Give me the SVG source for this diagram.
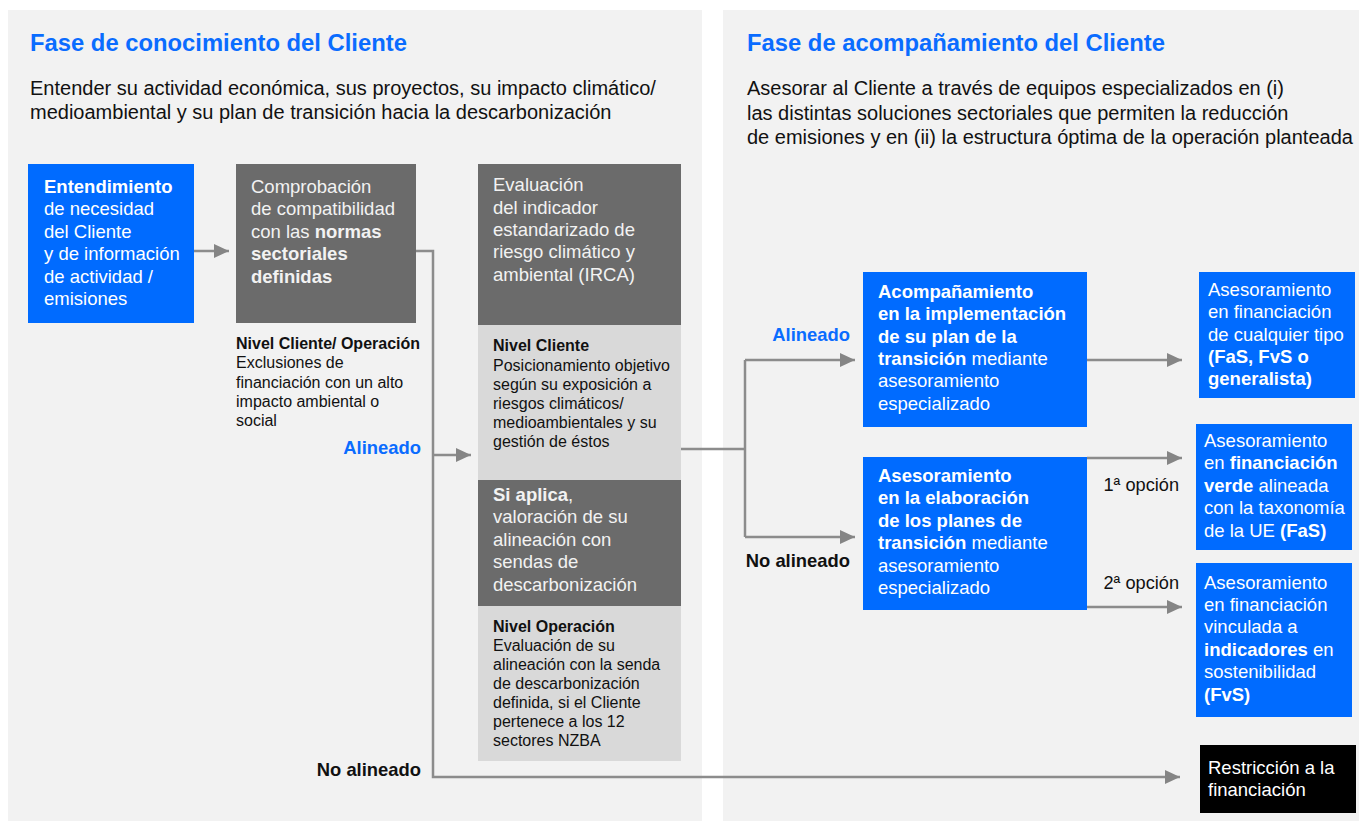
<svg xmlns="http://www.w3.org/2000/svg" width="1359" height="821" viewBox="0 0 1359 821">
<defs>
<marker id="ah" markerUnits="userSpaceOnUse" markerWidth="16" markerHeight="16" refX="15" refY="8" orient="auto">
<path d="M0,1 L15,8 L0,15 z" fill="#858585"/>
</marker>
<style>
text{font-family:"Liberation Sans",Arial,sans-serif;}
.title{font-size:23.8px;font-weight:bold;fill:#0A6CFF;}
.sub{font-size:20px;fill:#111;}
.bt{font-size:18.5px;fill:#FFFFFF;}
.gt{font-size:18.5px;fill:#F2F2F2;}
.st{font-size:16px;fill:#111;}
.b{font-weight:bold;}
.lblue{font-size:18.4px;font-weight:bold;fill:#0A6CFF;}
.lblack{font-size:18.4px;font-weight:bold;fill:#111;}
.opt{font-size:18.2px;fill:#111;}
.blue{fill:#006BFF;}
.dark{fill:#6B6B6B;}
.light{fill:#D9D9D9;}
.conn{fill:none;stroke:#8C8C8C;stroke-width:2.5;}
</style>
</defs>
<rect x="0" y="0" width="1359" height="821" fill="#FFFFFF"/>
<g id="panel-left">
<rect x="8" y="10" width="694" height="811" fill="#F2F2F2"/>
<text class="title" x="30" y="51">Fase de conocimiento del Cliente</text>
<text class="sub" x="30" y="95">Entender su actividad económica, sus proyectos, su impacto climático/</text>
<text class="sub" x="30" y="119">medioambiental y su plan de transición hacia la descarbonización</text>
</g>
<g id="panel-right">
<rect x="723" y="10" width="636" height="811" fill="#F2F2F2"/>
<text class="title" x="747" y="51">Fase de acompañamiento del Cliente</text>
<text class="sub" x="747" y="95">Asesorar al Cliente a través de equipos especializados en (i)</text>
<text class="sub" x="747" y="120">las distintas soluciones sectoriales que permiten la reducción</text>
<text class="sub" x="747" y="144">de emisiones y en (ii) la estructura óptima de la operación planteada</text>
</g>
<g id="connectors">
<path class="conn" d="M194,251 H229" marker-end="url(#ah)"/>
<path class="conn" d="M416,251 H433 V777 H1180" marker-end="url(#ah)"/>
<path class="conn" d="M433,455 H471" marker-end="url(#ah)"/>
<path class="conn" d="M681,449 H745"/>
<path class="conn" d="M745,360 V537"/>
<path class="conn" d="M745,360 H855" marker-end="url(#ah)"/>
<path class="conn" d="M745,537 H855" marker-end="url(#ah)"/>
<path class="conn" d="M1087,360 H1182" marker-end="url(#ah)"/>
<path class="conn" d="M1087,458 H1182" marker-end="url(#ah)"/>
<path class="conn" d="M1087,607 H1182" marker-end="url(#ah)"/>
</g>
<g id="node-entendimiento">
<rect class="blue" x="28" y="164" width="166" height="159"/>
<text class="bt" x="44" y="193"><tspan class="b">Entendimiento</tspan></text>
<text class="bt" x="44" y="215">de necesidad</text>
<text class="bt" x="44" y="238">del Cliente</text>
<text class="bt" x="44" y="260">y de información</text>
<text class="bt" x="44" y="283">de actividad /</text>
<text class="bt" x="44" y="305">emisiones</text>
</g>
<g id="node-comprobacion">
<rect class="dark" x="236" y="164" width="180" height="159"/>
<text class="gt" x="251" y="193">Comprobación</text>
<text class="gt" x="251" y="215">de compatibilidad</text>
<text class="gt" x="251" y="238">con las <tspan class="b">normas</tspan></text>
<text class="gt" x="251" y="260"><tspan class="b">sectoriales</tspan></text>
<text class="gt" x="251" y="283"><tspan class="b">definidas</tspan></text>
<text class="st" x="236" y="349"><tspan class="b">Nivel Cliente/ Operación</tspan></text>
<text class="st" x="236" y="368">Exclusiones de</text>
<text class="st" x="236" y="388">financiación con un alto</text>
<text class="st" x="236" y="407">impacto ambiental o</text>
<text class="st" x="236" y="426">social</text>
</g>
<g id="label-alineado-1">
<text class="lblue" x="421" y="454" text-anchor="end">Alineado</text>
</g>
<g id="label-noalineado-1">
<text class="lblack" x="421" y="776" text-anchor="end">No alineado</text>
</g>
<g id="node-irca">
<rect class="dark" x="478" y="164" width="203" height="161"/>
<rect class="light" x="478" y="325" width="203" height="155"/>
<text class="gt" x="493" y="191">Evaluación</text>
<text class="gt" x="493" y="214">del indicador</text>
<text class="gt" x="493" y="236">estandarizado de</text>
<text class="gt" x="493" y="258">riesgo climático y</text>
<text class="gt" x="493" y="281">ambiental (IRCA)</text>
<text class="st" x="493" y="351"><tspan class="b">Nivel Cliente</tspan></text>
<text class="st" x="493" y="371">Posicionamiento objetivo</text>
<text class="st" x="493" y="390">según su exposición a</text>
<text class="st" x="493" y="409">riesgos climáticos/</text>
<text class="st" x="493" y="428">medioambientales y su</text>
<text class="st" x="493" y="447">gestión de éstos</text>
</g>
<g id="node-sendas">
<rect class="dark" x="478" y="480" width="203" height="126"/>
<rect class="light" x="478" y="606" width="203" height="155"/>
<text class="gt" x="493" y="501"><tspan class="b">Si aplica</tspan>,</text>
<text class="gt" x="493" y="523">valoración de su</text>
<text class="gt" x="493" y="546">alineación con</text>
<text class="gt" x="493" y="568">sendas de</text>
<text class="gt" x="493" y="591">descarbonización</text>
<text class="st" x="493" y="632"><tspan class="b">Nivel Operación</tspan></text>
<text class="st" x="493" y="651">Evaluación de su</text>
<text class="st" x="493" y="670">alineación con la senda</text>
<text class="st" x="493" y="689">de descarbonización</text>
<text class="st" x="493" y="708">definida, si el Cliente</text>
<text class="st" x="493" y="727">pertenece a los 12</text>
<text class="st" x="493" y="746">sectores NZBA</text>
</g>
<g id="label-alineado-2">
<text class="lblue" x="850" y="341" text-anchor="end">Alineado</text>
</g>
<g id="label-noalineado-2">
<text class="lblack" x="850" y="567" text-anchor="end">No alineado</text>
</g>
<g id="node-acompanamiento">
<rect class="blue" x="863" y="272" width="224" height="155"/>
<text class="bt" x="878" y="298"><tspan class="b">Acompañamiento</tspan></text>
<text class="bt" x="878" y="320"><tspan class="b">en la implementación</tspan></text>
<text class="bt" x="878" y="343"><tspan class="b">de su plan de la</tspan></text>
<text class="bt" x="878" y="365"><tspan class="b">transición</tspan> mediante</text>
<text class="bt" x="878" y="387">asesoramiento</text>
<text class="bt" x="878" y="410">especializado</text>
</g>
<g id="node-elaboracion">
<rect class="blue" x="863" y="457" width="224" height="153"/>
<text class="bt" x="878" y="482"><tspan class="b">Asesoramiento</tspan></text>
<text class="bt" x="878" y="504"><tspan class="b">en la elaboración</tspan></text>
<text class="bt" x="878" y="527"><tspan class="b">de los planes de</tspan></text>
<text class="bt" x="878" y="549"><tspan class="b">transición</tspan> mediante</text>
<text class="bt" x="878" y="572">asesoramiento</text>
<text class="bt" x="878" y="594">especializado</text>
</g>
<g id="label-opcion-1">
<text class="opt" x="1179" y="491" text-anchor="end">1ª opción</text>
</g>
<g id="label-opcion-2">
<text class="opt" x="1179" y="589" text-anchor="end">2ª opción</text>
</g>
<g id="node-cualquier">
<rect class="blue" x="1199" y="272" width="156" height="126"/>
<text class="bt" x="1208" y="296">Asesoramiento</text>
<text class="bt" x="1208" y="318">en financiación</text>
<text class="bt" x="1208" y="341">de cualquier tipo</text>
<text class="bt" x="1208" y="363"><tspan class="b">(FaS, FvS o</tspan></text>
<text class="bt" x="1208" y="385"><tspan class="b">generalista)</tspan></text>
</g>
<g id="node-verde">
<rect class="blue" x="1196" y="424" width="156" height="126"/>
<text class="bt" x="1204" y="447">Asesoramiento</text>
<text class="bt" x="1204" y="469">en <tspan class="b">financiación</tspan></text>
<text class="bt" x="1204" y="492"><tspan class="b">verde</tspan> alineada</text>
<text class="bt" x="1204" y="514">con la taxonomía</text>
<text class="bt" x="1204" y="537">de la UE <tspan class="b">(FaS)</tspan></text>
</g>
<g id="node-indicadores">
<rect class="blue" x="1196" y="563" width="156" height="154"/>
<text class="bt" x="1204" y="589">Asesoramiento</text>
<text class="bt" x="1204" y="611">en financiación</text>
<text class="bt" x="1204" y="633">vinculada a</text>
<text class="bt" x="1204" y="656"><tspan class="b">indicadores</tspan> en</text>
<text class="bt" x="1204" y="678">sostenibilidad</text>
<text class="bt" x="1204" y="701"><tspan class="b">(FvS)</tspan></text>
</g>
<g id="node-restriccion">
<rect x="1200" y="745" width="156" height="68" fill="#000000"/>
<text class="bt" x="1208" y="774">Restricción a la</text>
<text class="bt" x="1208" y="796">financiación</text>
</g>
</svg>
